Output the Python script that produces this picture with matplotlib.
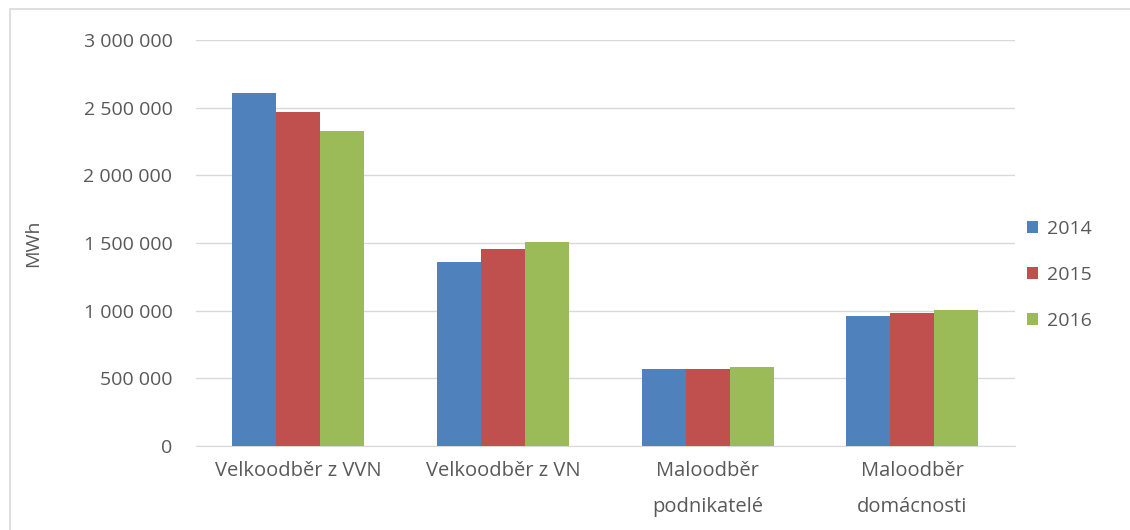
import numpy as np
import matplotlib.pyplot as plt
from matplotlib.patches import Rectangle
from matplotlib.ticker import FuncFormatter

# data
categories = ["Velkoodběr z VVN", "Velkoodběr z VN", "Maloodběr\npodnikatelé", "Maloodběr\ndomácnosti"]
years = ["2014", "2015", "2016"]
v2014 = [2605000, 1360000, 572000, 957000]
v2015 = [2468000, 1455000, 572000, 980000]
v2016 = [2328000, 1510000, 585000, 1004000]
colors = ["#4F81BD", "#C0504D", "#9BBB59"]

plt.rcParams['font.family'] = ['Open Sans', 'DejaVu Sans']
text_col = "#595959"

fig = plt.figure(figsize=(11.3, 5.3), dpi=100)
ax = fig.add_axes([0.1735, 0.1585, 0.7245, 0.766])

# outer chart border
fig.patches.append(Rectangle((10 / 1130, -0.1), 1.2, 1 - 9 / 530 + 0.1,
                             transform=fig.transFigure, fill=False,
                             edgecolor="#D9D9D9", linewidth=1.2))

x = np.arange(len(categories))
w = 0.215
for i, (vals, c) in enumerate(zip([v2014, v2015, v2016], colors)):
    ax.bar(x + (i - 1) * w, vals, w, color=c, label=years[i], zorder=3)

ax.set_xlim(-0.5, len(categories) - 0.5)
ax.set_ylim(0, 3000000)
ax.set_yticks(np.arange(0, 3000001, 500000))
ax.yaxis.set_major_formatter(FuncFormatter(lambda v, p: f"{int(v):,}".replace(",", " ")))
ax.grid(axis="y", color="#D9D9D9", linewidth=1, zorder=0)

for s in ["top", "right", "left"]:
    ax.spines[s].set_visible(False)
ax.spines["bottom"].set_color("#D9D9D9")

ax.set_xticks(x)
ax.set_xticklabels(categories, fontsize=14.5, color=text_col, linespacing=2.05)
ax.tick_params(axis="x", length=0, pad=11)
ax.tick_params(axis="y", length=0, pad=17, labelsize=14, labelcolor=text_col)

ax.set_ylabel("MWh", fontsize=14, color=text_col, labelpad=30)

ax.legend(loc="center left", bbox_to_anchor=(1010 / 1130, 1 - 275 / 530),
          bbox_transform=fig.transFigure, frameon=False, fontsize=14,
          labelcolor=text_col, handlelength=0.55, handleheight=0.55,
          handletextpad=0.45, labelspacing=1.45)

fig.savefig("out.png", dpi=100)
